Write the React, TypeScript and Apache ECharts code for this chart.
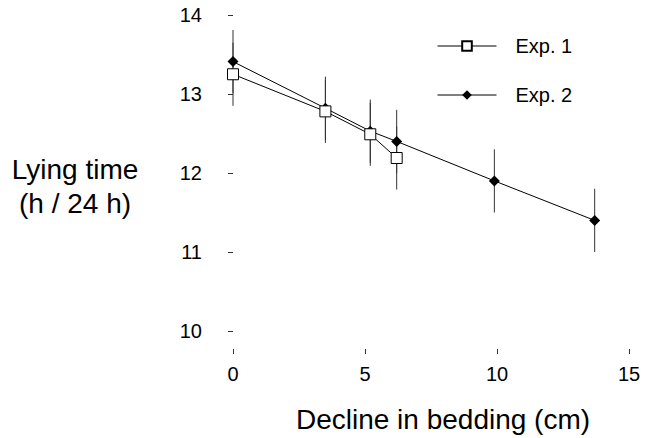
import React, { useEffect, useRef } from "react";
import * as echarts from "echarts";

const exp1X = [0, 3.5, 5.2, 6.2];
const exp1Y = [13.25, 12.78, 12.49, 12.19];
const exp1Err = [0.4, 0.4, 0.4, 0.4];

const exp2X = [0, 3.5, 5.2, 6.2, 9.9, 13.7];
const exp2Y = [13.41, 12.82, 12.53, 12.4, 11.9, 11.4];
const exp2Err = [0.4, 0.4, 0.4, 0.4, 0.4, 0.4];

const seriesNames = ["Exp. 1", "Exp. 2"];
const xTitle = "Decline in bedding (cm)";
const yTitleLines = ["Lying time", "(h / 24 h)"];

const FONT = "'Liberation Sans', Arial, Helvetica, sans-serif";

export default function App() {
  const ref = useRef<HTMLDivElement>(null);
  useEffect(() => {
    if (!ref.current) return;
    const chart = echarts.init(ref.current, undefined, { renderer: "svg" });
    const errData = [
      ...exp1X.map((x, i) => [x, exp1Y[i] - exp1Err[i], exp1Y[i] + exp1Err[i]]),
      ...exp2X.map((x, i) => [x, exp2Y[i] - exp2Err[i], exp2Y[i] + exp2Err[i]]),
    ];
    chart.setOption({
      animation: false,
      backgroundColor: "#fff",
      textStyle: { fontFamily: FONT },
      grid: { left: 233, right: 17, top: 15, bottom: 107, containLabel: false },
      legend: {
        data: seriesNames,
        orient: "vertical",
        left: 432,
        top: 31,
        itemWidth: 59,
        itemHeight: 12,
        itemGap: 29,
        lineStyle: { width: 1, color: "#000" },
        textStyle: {
          fontFamily: FONT,
          fontSize: 20,
          color: "#000",
          padding: [0, 0, 0, 14],
        },
      },
      xAxis: {
        type: "value",
        min: 0,
        max: 15,
        interval: 5,
        offset: 18,
        axisLine: { show: false },
        splitLine: { show: false },
        axisTick: { show: true, length: 5, lineStyle: { color: "#333", width: 1 } },
        axisLabel: { fontSize: 20, color: "#000", margin: 15, fontFamily: FONT },
      },
      yAxis: {
        type: "value",
        min: 10,
        max: 14,
        interval: 1,
        offset: 16,
        axisLine: { show: false },
        splitLine: { show: false },
        axisTick: { show: true, length: 5, lineStyle: { color: "#333", width: 1 } },
        axisLabel: { fontSize: 20, color: "#000", margin: 15, fontFamily: FONT },
      },
      graphic: [
        {
          type: "text",
          x: 75,
          y: 169,
          style: {
            text: yTitleLines[0],
            fontSize: 28,
            fontFamily: FONT,
            fill: "#000",
            textAlign: "center",
            textVerticalAlign: "middle",
          },
        },
        {
          type: "text",
          x: 75,
          y: 203,
          style: {
            text: yTitleLines[1],
            fontSize: 28,
            fontFamily: FONT,
            fill: "#000",
            textAlign: "center",
            textVerticalAlign: "middle",
          },
        },
        {
          type: "text",
          x: 443,
          y: 419,
          style: {
            text: xTitle,
            fontSize: 28,
            fontFamily: FONT,
            fill: "#000",
            textAlign: "center",
            textVerticalAlign: "middle",
          },
        },
      ],
      series: [
        {
          type: "custom",
          name: "err",
          z: 1,
          silent: true,
          data: errData,
          encode: { x: 0, y: [1, 2] },
          renderItem: (params: any, api: any) => {
            const p1 = api.coord([api.value(0), api.value(1)]);
            const p2 = api.coord([api.value(0), api.value(2)]);
            return {
              type: "line",
              shape: { x1: p1[0], y1: p1[1], x2: p2[0], y2: p2[1] },
              style: { stroke: "#333", lineWidth: 1 },
            };
          },
        },
        {
          type: "line",
          name: seriesNames[1],
          z: 2,
          data: exp2X.map((x, i) => [x, exp2Y[i]]),
          symbol: "diamond",
          symbolSize: 11,
          lineStyle: { color: "#000", width: 1 },
          itemStyle: { color: "#000", borderColor: "#000", borderWidth: 0 },
        },
        {
          type: "line",
          name: seriesNames[0],
          z: 3,
          data: exp1X.map((x, i) => [x, exp1Y[i]]),
          symbol: "rect",
          symbolSize: 11,
          lineStyle: { color: "#000", width: 1 },
          itemStyle: { color: "#fff", borderColor: "#000", borderWidth: 1 },
        },
      ],
    });
    return () => chart.dispose();
  }, []);
  return (
    <div
      ref={ref}
      style={{ position: "fixed", left: 0, top: 0, width: 646, height: 438 }}
    />
  );
}
